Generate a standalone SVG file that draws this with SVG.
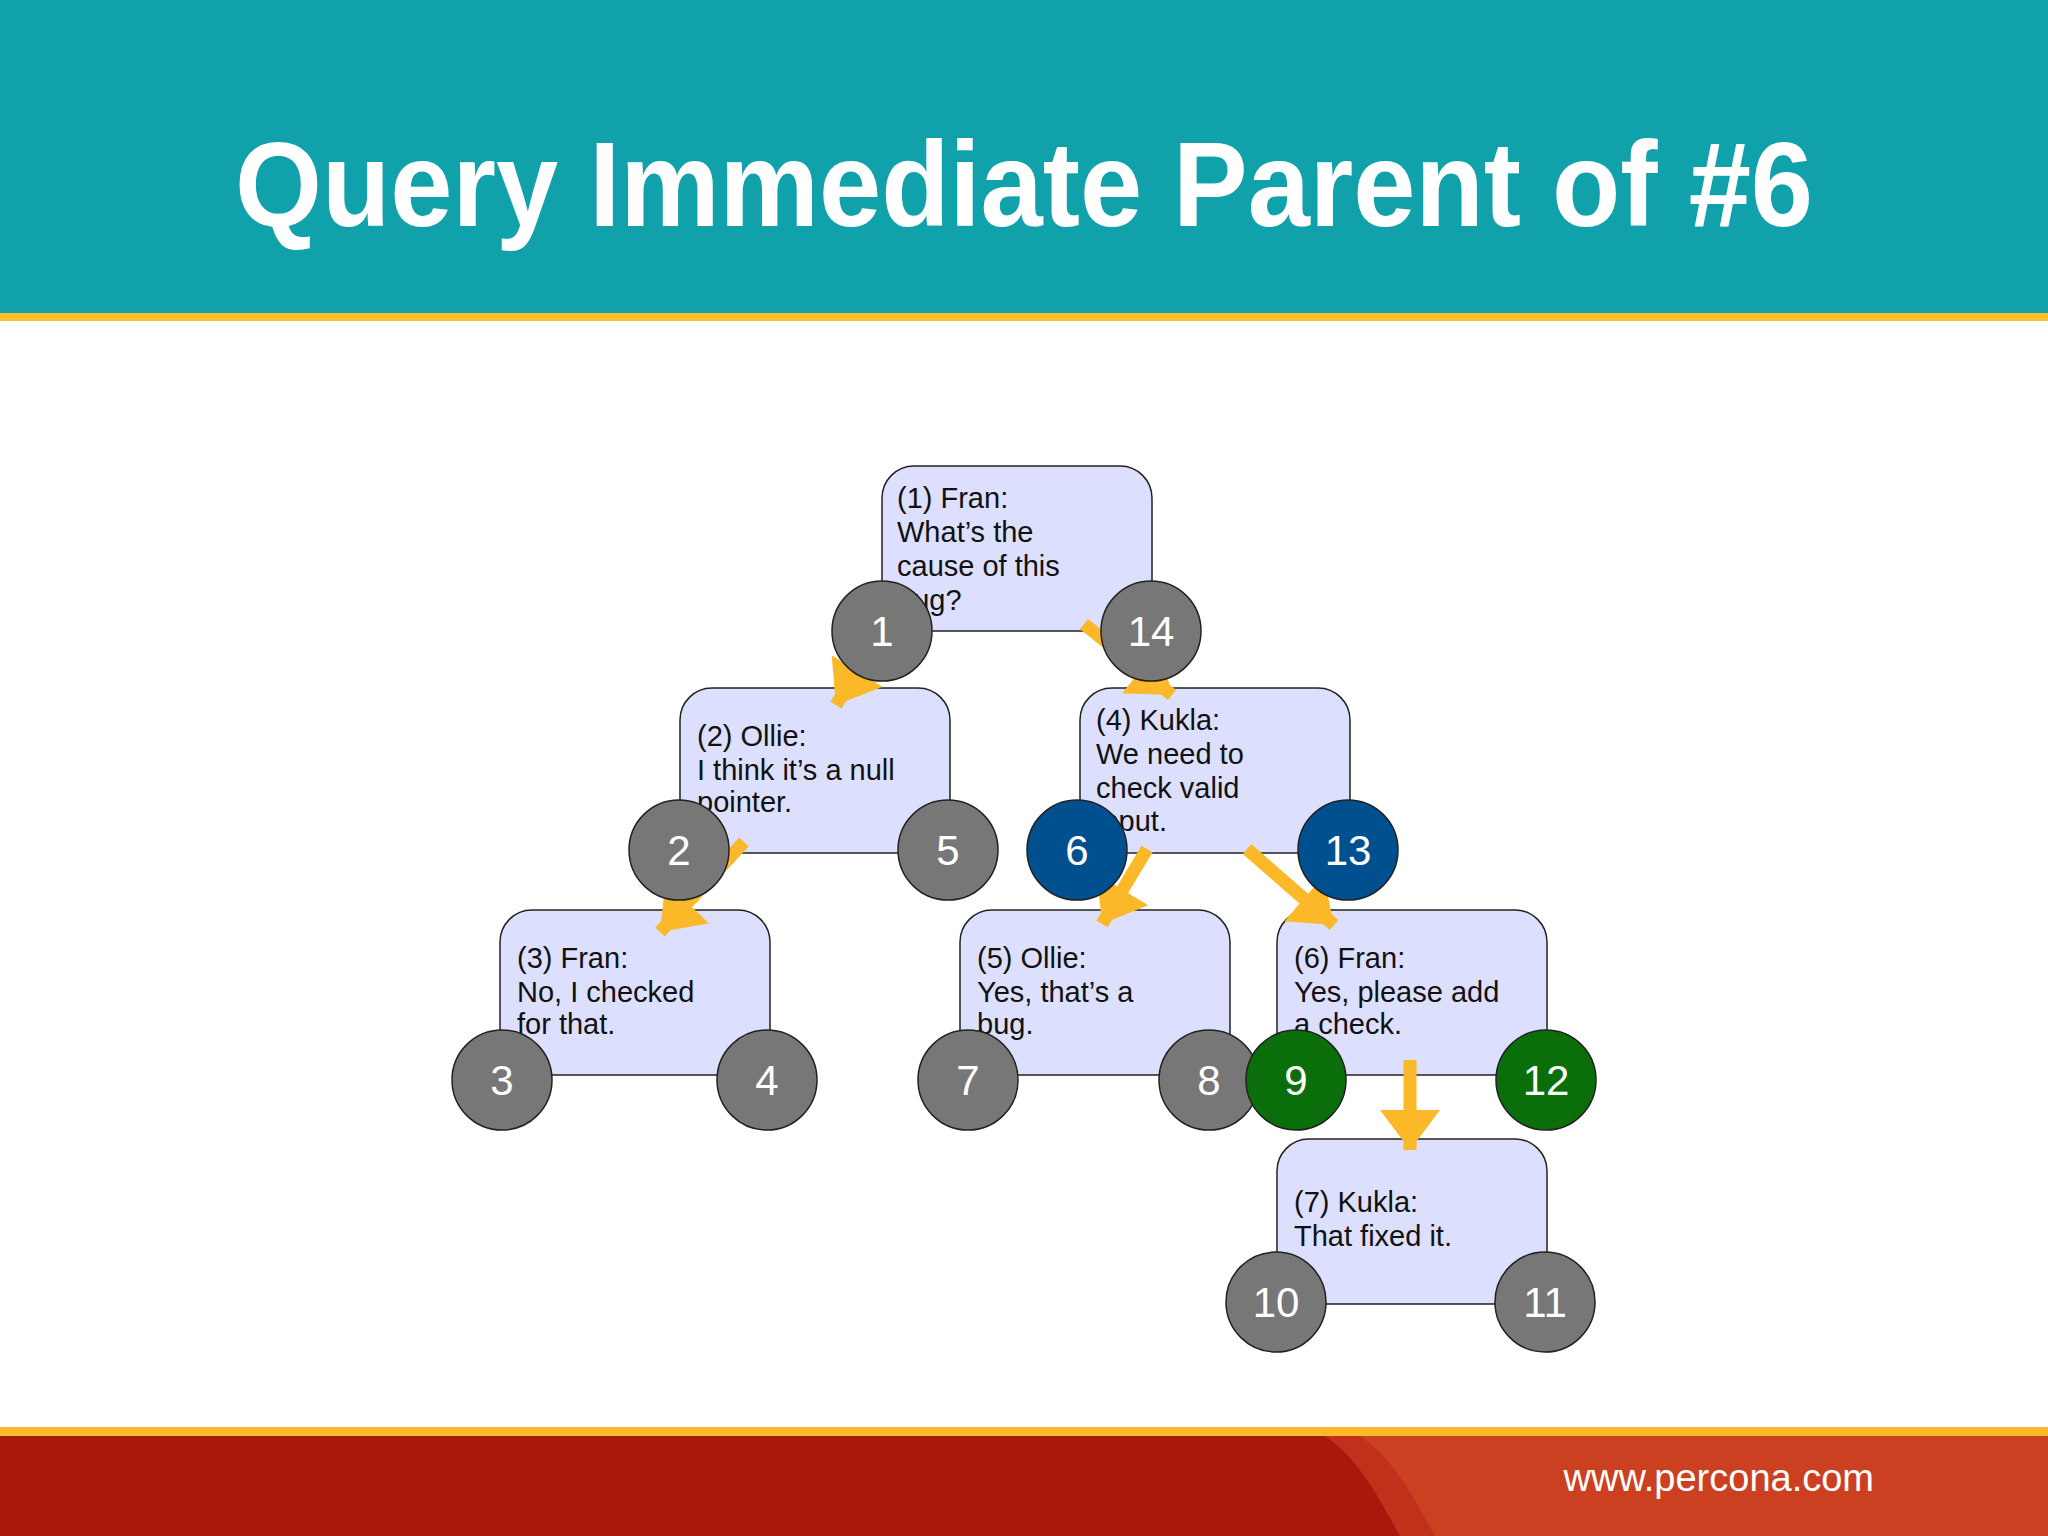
<svg xmlns="http://www.w3.org/2000/svg" width="2048" height="1536" viewBox="0 0 2048 1536">
<style>
.box{fill:#dcdffd;stroke:#222;stroke-width:1.5}
.t{font-family:"Liberation Sans",Arial,sans-serif;font-size:29px;fill:#111}
.c{stroke:#222;stroke-width:1.5}
.g{fill:#777}.b{fill:#00508f}.gr{fill:#0a6e0a}
.n{font-family:"Liberation Sans",Arial,sans-serif;font-size:42px;fill:#fff;text-anchor:middle}
.a{stroke:#fbb829;stroke-width:13;fill:none;marker-end:url(#ah)}
</style>
<defs>
<marker id="ah" markerUnits="userSpaceOnUse" markerWidth="60" markerHeight="60" refX="40" refY="30" orient="auto"><path d="M0,0 L40,30 L0,60 Z" fill="#fbb829"/></marker>
</defs>
<rect width="2048" height="1536" fill="#fff"/>
<rect width="2048" height="313" fill="#10a1ab"/>
<rect y="313" width="2048" height="8" fill="#fbc02d"/>
<text x="1024" y="226" text-anchor="middle" textLength="1578" lengthAdjust="spacingAndGlyphs" font-family="'Liberation Sans',Arial,sans-serif" font-weight="bold" font-size="120" fill="#fff">Query Immediate Parent of #6</text>
<rect y="1427" width="2048" height="9" fill="#fbb829"/>
<rect y="1436" width="2048" height="100" fill="#a8190c"/>
<path d="M1325,1436 C1360,1460 1380,1500 1400,1536 L2048,1536 L2048,1436 Z" fill="#c0301a"/>
<path d="M1360,1436 C1395,1460 1415,1500 1435,1536 L2048,1536 L2048,1436 Z" fill="#cc4022"/>
<text x="1874" y="1491" text-anchor="end" font-family="'Liberation Sans',Arial,sans-serif" font-size="38" fill="#fff">www.percona.com</text>

<g id="node1"><rect class="box" x="882" y="466" width="270" height="165" rx="32"/><text class="t"><tspan x="897" y="508">(1) Fran:</tspan><tspan x="897" y="542">What’s the</tspan><tspan x="897" y="576">cause of this</tspan><tspan x="897" y="610">bug?</tspan></text></g>
<g id="node2"><rect class="box" x="680" y="688" width="270" height="165" rx="32"/><text class="t"><tspan x="697" y="746">(2) Ollie:</tspan><tspan x="697" y="780">I think it’s a null</tspan><tspan x="697" y="812">pointer.</tspan></text></g>
<g id="node4"><rect class="box" x="1080" y="688" width="270" height="165" rx="32"/><text class="t"><tspan x="1096" y="730">(4) Kukla:</tspan><tspan x="1096" y="764">We need to</tspan><tspan x="1096" y="798">check valid</tspan><tspan x="1096" y="831">input.</tspan></text></g>
<g id="node3"><rect class="box" x="500" y="910" width="270" height="165" rx="32"/><text class="t"><tspan x="517" y="968">(3) Fran:</tspan><tspan x="517" y="1002">No, I checked</tspan><tspan x="517" y="1034">for that.</tspan></text></g>
<g id="node5"><rect class="box" x="960" y="910" width="270" height="165" rx="32"/><text class="t"><tspan x="977" y="968">(5) Ollie:</tspan><tspan x="977" y="1002">Yes, that’s a</tspan><tspan x="977" y="1034">bug.</tspan></text></g>
<g id="node6"><rect class="box" x="1277" y="910" width="270" height="165" rx="32"/><text class="t"><tspan x="1294" y="968">(6) Fran:</tspan><tspan x="1294" y="1002">Yes, please add</tspan><tspan x="1294" y="1034">a check.</tspan></text></g>
<g id="node7"><rect class="box" x="1277" y="1139" width="270" height="165" rx="32"/><text class="t"><tspan x="1294" y="1212">(7) Kukla:</tspan><tspan x="1294" y="1246">That fixed it.</tspan></text></g>

<g id="connectors">
<line class="a" x1="882" y1="631" x2="836" y2="705"/>
<line class="a" x1="1084" y1="624" x2="1172" y2="695"/>
<line class="a" x1="744" y1="842" x2="660" y2="932"/>
<line class="a" x1="1147" y1="849" x2="1102" y2="924"/>
<line class="a" x1="1247" y1="849" x2="1334" y2="925"/>
<line class="a" x1="1410" y1="1060" x2="1410" y2="1150"/>
</g>

<g id="counters">
<circle class="c g" cx="882" cy="631" r="50"/><text class="n" x="882" y="646">1</text>
<circle class="c g" cx="1151" cy="631" r="50"/><text class="n" x="1151" y="646">14</text>
<circle class="c g" cx="679" cy="850" r="50"/><text class="n" x="679" y="865">2</text>
<circle class="c g" cx="948" cy="850" r="50"/><text class="n" x="948" y="865">5</text>
<circle class="c b" cx="1077" cy="850" r="50"/><text class="n" x="1077" y="865">6</text>
<circle class="c b" cx="1348" cy="850" r="50"/><text class="n" x="1348" y="865">13</text>
<circle class="c g" cx="502" cy="1080" r="50"/><text class="n" x="502" y="1095">3</text>
<circle class="c g" cx="767" cy="1080" r="50"/><text class="n" x="767" y="1095">4</text>
<circle class="c g" cx="968" cy="1080" r="50"/><text class="n" x="968" y="1095">7</text>
<circle class="c g" cx="1209" cy="1080" r="50"/><text class="n" x="1209" y="1095">8</text>
<circle class="c gr" cx="1296" cy="1080" r="50"/><text class="n" x="1296" y="1095">9</text>
<circle class="c gr" cx="1546" cy="1080" r="50"/><text class="n" x="1546" y="1095">12</text>
<circle class="c g" cx="1276" cy="1302" r="50"/><text class="n" x="1276" y="1317">10</text>
<circle class="c g" cx="1545" cy="1302" r="50"/><text class="n" x="1545" y="1317">11</text>
</g>
</svg>
